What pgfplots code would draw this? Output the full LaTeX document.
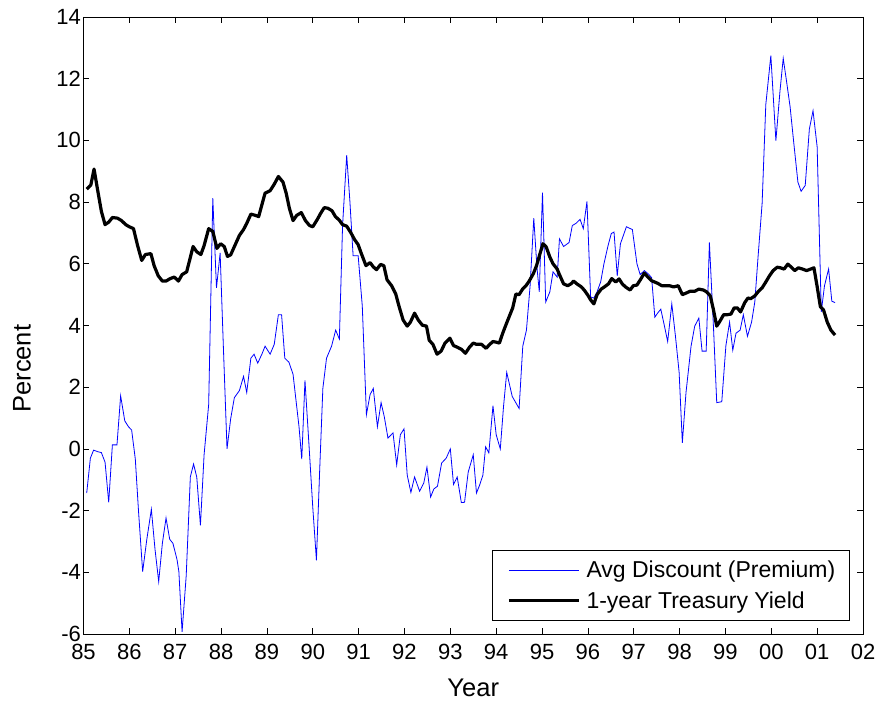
\documentclass[border=0pt]{standalone}
\usepackage{fontspec}
\setmainfont{Liberation Sans}
\usepackage{pgfplots}
\pgfplotsset{compat=1.18}
\begin{document}
\begin{tikzpicture}
\useasboundingbox (-83.5pt,-68pt) rectangle (793.5pt,634pt);
\begin{axis}[
  scale only axis, width=779.5pt, height=617pt,
  xmin=85, xmax=102, ymin=-6, ymax=14,
  xtick={85,86,87,88,89,90,91,92,93,94,95,96,97,98,99,100,101,102},
  xticklabels={85,86,87,88,89,90,91,92,93,94,95,96,97,98,99,00,01,02},
  ytick={-6,-4,-2,0,2,4,6,8,10,12,14},
  yticklabels={-6,-4,-2,0,2,4,6,8,10,12,14},
  tick align=inside, major tick length=6pt,
  tick style={black, line width=0.7pt},
  axis line style={line width=0.9pt},
  ticklabel style={font=\fontsize{22}{25}\selectfont},
  xticklabel style={yshift=-10pt, inner ysep=0pt},
  yticklabel style={xshift=1pt, inner ysep=0pt},
  xlabel={Year}, ylabel={Percent},
  xlabel style={font=\fontsize{25.5}{28}\selectfont, at={(axis description cs:0.5,-0.0875)}, anchor=center},
  ylabel style={font=\fontsize{25.5}{28}\selectfont, at={(axis description cs:-0.079,0.43)}, anchor=center},
  legend cell align=left,
  legend style={at={(0.983,0.021)}, anchor=south east, draw=black, line width=0.8pt,
    font=\fontsize{23}{26}\selectfont, inner xsep=12pt, inner ysep=9pt,
    row sep=8pt},
  legend image code/.code={\draw[#1] (0pt,0pt) -- (70pt,0pt); \path (-3pt,0pt) (74pt,0pt);},
]
\addplot[blue, line width=0.8pt] coordinates {
(85.07,-1.43)(85.15,-0.30)(85.22,-0.04)(85.31,-0.09)(85.39,-0.12)(85.47,-0.43)(85.55,-1.73)(85.63,0.13)(85.73,0.13)(85.81,1.72)(85.90,0.91)(85.98,0.72)
(86.05,0.61)(86.13,-0.33)(86.20,-2.02)(86.29,-3.98)(86.38,-2.94)(86.48,-1.96)(86.56,-3.26)(86.64,-4.30)(86.72,-3.06)(86.80,-2.24)(86.88,-2.93)(86.95,-3.06)
(87.04,-3.59)(87.08,-3.98)(87.15,-5.93)(87.24,-4.11)(87.33,-0.91)(87.40,-0.49)(87.47,-0.91)(87.55,-2.48)(87.63,-0.19)(87.73,1.44)(87.82,8.13)(87.90,5.22)(87.98,6.35)
(88.05,3.33)(88.13,0.00)(88.21,0.98)(88.29,1.66)(88.40,1.89)(88.49,2.35)(88.56,1.83)(88.65,2.94)(88.72,3.07)(88.80,2.78)(88.89,3.07)(88.96,3.33)
(89.07,3.07)(89.16,3.39)(89.25,4.35)(89.32,4.35)(89.39,2.94)(89.48,2.81)(89.57,2.42)(89.64,1.50)(89.70,0.72)(89.76,-0.33)(89.83,2.22)(89.92,0.07)
(90.00,-1.89)(90.08,-3.61)(90.15,-0.72)(90.22,1.96)(90.30,2.94)(90.41,3.33)(90.50,3.85)(90.58,3.56)(90.65,7.24)(90.74,9.52)(90.81,8.02)(90.88,6.26)(90.99,6.26)
(91.08,4.63)(91.17,1.11)(91.25,1.76)(91.32,1.96)(91.41,0.72)(91.49,1.50)(91.56,1.04)(91.64,0.35)(91.75,0.52)(91.83,-0.52)(91.91,0.46)(91.99,0.65)
(92.06,-0.85)(92.14,-1.41)(92.22,-0.91)(92.33,-1.37)(92.42,-1.11)(92.49,-0.59)(92.57,-1.56)(92.64,-1.30)(92.72,-1.21)(92.81,-0.46)(92.91,-0.30)
(93.00,0.00)(93.07,-1.15)(93.15,-0.91)(93.24,-1.74)(93.31,-1.73)(93.39,-0.75)(93.50,-0.19)(93.57,-1.43)(93.64,-1.17)(93.71,-0.85)(93.77,0.07)(93.84,-0.13)(93.93,1.40)
(94.00,0.46)(94.09,0.00)(94.16,1.37)(94.23,2.48)(94.35,1.70)(94.45,1.44)(94.50,1.31)(94.58,3.33)(94.66,3.85)(94.74,5.29)(94.82,7.48)(94.89,5.87)(94.94,5.09)
(95.01,8.31)(95.08,4.76)(95.17,5.09)(95.24,5.74)(95.33,5.57)(95.38,6.81)(95.47,6.56)(95.59,6.69)(95.66,7.24)(95.74,7.31)(95.83,7.44)(95.90,7.14)(95.98,8.02)
(96.06,4.92)(96.13,4.89)(96.20,5.09)(96.28,5.42)(96.35,6.00)(96.44,6.59)(96.51,6.98)(96.57,7.03)(96.64,5.61)(96.71,6.65)(96.84,7.20)(96.97,7.11)
(97.07,6.00)(97.14,5.65)(97.23,5.78)(97.32,5.67)(97.39,5.55)(97.46,4.27)(97.52,4.40)(97.59,4.53)(97.67,3.98)(97.74,3.48)(97.83,4.70)(97.91,3.65)(97.99,2.48)
(98.06,0.20)(98.14,1.83)(98.25,3.33)(98.33,3.98)(98.42,4.24)(98.49,3.17)(98.58,3.17)(98.65,6.69)(98.74,3.91)(98.81,1.50)(98.92,1.53)
(99.01,3.35)(99.09,4.11)(99.16,3.20)(99.23,3.75)(99.32,3.85)(99.39,4.35)(99.48,3.65)(99.57,4.11)(99.64,4.76)(99.71,6.20)(99.80,7.96)(99.88,11.16)(99.99,12.75)
(100.10,9.99)(100.19,11.61)(100.26,12.66)(100.33,11.94)(100.41,11.09)(100.49,9.92)(100.58,8.65)(100.65,8.35)(100.74,8.54)(100.83,10.37)(100.91,10.96)
(101.00,9.79)(101.09,4.44)(101.16,5.29)(101.25,5.83)(101.32,4.79)(101.39,4.74)
};
\addlegendentry{Avg Discount (Premium)}
\addplot[black, line width=3.2pt, line join=round] coordinates {
(85.07,8.42)(85.16,8.55)(85.23,9.07)(85.32,8.29)(85.39,7.70)(85.47,7.27)(85.55,7.35)(85.63,7.50)(85.74,7.48)(85.83,7.40)(85.92,7.27)
(86.00,7.20)(86.09,7.14)(86.18,6.59)(86.27,6.11)(86.35,6.30)(86.47,6.33)(86.54,5.94)(86.63,5.61)(86.72,5.44)(86.80,5.44)(86.89,5.52)(86.98,5.57)
(87.07,5.44)(87.15,5.65)(87.25,5.74)(87.39,6.56)(87.47,6.39)(87.56,6.30)(87.63,6.59)(87.73,7.14)(87.82,7.05)(87.91,6.50)(87.99,6.65)
(88.07,6.56)(88.14,6.24)(88.21,6.29)(88.30,6.59)(88.40,6.92)(88.49,7.11)(88.56,7.31)(88.65,7.61)(88.75,7.57)(88.82,7.53)(88.91,8.02)(88.96,8.29)
(89.07,8.37)(89.16,8.58)(89.25,8.83)(89.35,8.65)(89.42,8.29)(89.49,7.80)(89.57,7.40)(89.65,7.57)(89.75,7.66)(89.84,7.40)(89.93,7.24)
(90.00,7.20)(90.10,7.44)(90.17,7.63)(90.25,7.82)(90.33,7.80)(90.42,7.72)(90.49,7.54)(90.58,7.41)(90.65,7.27)(90.74,7.22)(90.83,7.01)(90.91,6.79)(90.99,6.62)
(91.06,6.33)(91.16,5.94)(91.25,6.04)(91.32,5.90)(91.39,5.81)(91.48,5.98)(91.55,5.94)(91.62,5.48)(91.72,5.29)(91.81,5.02)(91.88,4.63)(91.97,4.18)
(92.06,3.98)(92.13,4.11)(92.22,4.40)(92.30,4.18)(92.39,4.01)(92.48,3.98)(92.54,3.52)(92.62,3.39)(92.71,3.07)(92.80,3.17)(92.88,3.42)(92.99,3.59)
(93.07,3.35)(93.16,3.29)(93.25,3.22)(93.33,3.10)(93.42,3.30)(93.50,3.43)(93.57,3.39)(93.68,3.39)(93.78,3.26)(93.86,3.39)(93.93,3.48)
(94.00,3.46)(94.07,3.43)(94.14,3.74)(94.22,4.05)(94.29,4.31)(94.36,4.57)(94.43,5.02)(94.50,5.00)(94.58,5.19)(94.65,5.29)(94.72,5.44)(94.81,5.68)(94.88,5.94)(94.95,6.30)
(95.02,6.65)(95.09,6.55)(95.17,6.22)(95.24,6.00)(95.33,5.83)(95.38,5.65)(95.47,5.35)(95.56,5.29)(95.63,5.35)(95.69,5.44)(95.76,5.35)(95.85,5.26)(95.92,5.15)
(96.00,4.98)(96.06,4.83)(96.13,4.70)(96.20,5.00)(96.29,5.18)(96.36,5.25)(96.45,5.35)(96.52,5.52)(96.61,5.41)(96.68,5.51)(96.75,5.35)(96.82,5.25)(96.92,5.15)(96.99,5.29)
(97.07,5.31)(97.16,5.52)(97.23,5.70)(97.31,5.57)(97.39,5.45)(97.52,5.37)(97.61,5.29)(97.70,5.29)(97.78,5.29)(97.87,5.25)(97.97,5.29)
(98.06,5.00)(98.14,5.05)(98.23,5.11)(98.33,5.11)(98.42,5.18)(98.52,5.15)(98.59,5.09)(98.67,4.96)(98.74,4.50)(98.81,3.98)(98.88,4.14)(98.96,4.35)
(99.04,4.35)(99.12,4.37)(99.19,4.57)(99.26,4.57)(99.33,4.44)(99.42,4.74)(99.49,4.89)(99.55,4.87)(99.64,4.96)(99.71,5.09)(99.80,5.22)(99.88,5.41)(99.96,5.61)
(100.04,5.78)(100.13,5.89)(100.20,5.87)(100.28,5.83)(100.36,5.99)(100.43,5.90)(100.51,5.78)(100.59,5.87)(100.68,5.83)(100.77,5.78)(100.86,5.83)(100.93,5.87)
(101.00,5.26)(101.07,4.61)(101.14,4.50)(101.22,4.11)(101.30,3.85)(101.39,3.69)
};
\addlegendentry{1-year Treasury Yield}
\end{axis}
\end{tikzpicture}
\end{document}
